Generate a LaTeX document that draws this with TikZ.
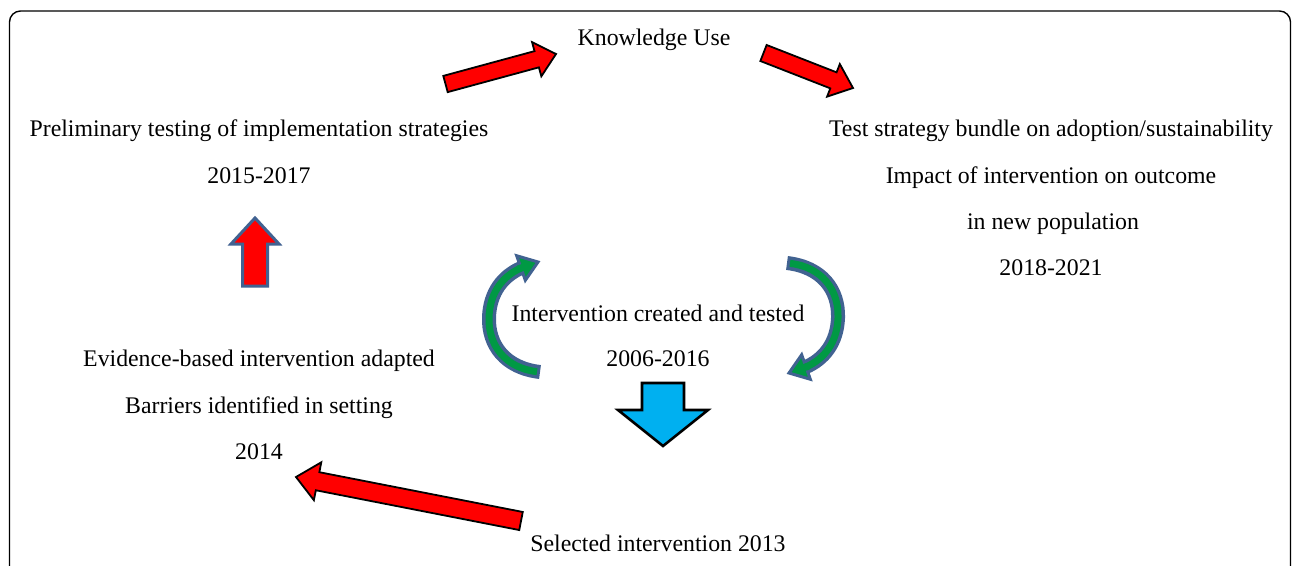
\documentclass[tikz,border=0pt]{standalone}
\usepackage{fontspec}
\setmainfont{Liberation Serif}
\usetikzlibrary{calc}
\definecolor{arrred}{RGB}{255,0,0}
\definecolor{arrgreen}{RGB}{0,153,68}
\definecolor{arrblue}{RGB}{0,176,240}
\definecolor{edgeblue}{RGB}{65,98,145}
\tikzset{
  lbl/.style={anchor=base, inner sep=0pt, font=\fontsize{23.8}{30}\selectfont},
  redarr/.style={fill=arrred, draw=black, line width=1.8pt, line join=miter},
  uparr/.style={fill=arrred, draw=edgeblue, line width=3pt, line join=miter},
  downarr/.style={fill=arrblue, draw=black, line width=2.6pt, line join=miter},
}
% #1 style, #2 tail, #3 tip, #4 shaft half width, #5 head half width, #6 head length
\newcommand\blockarr[6]{%
  \coordinate (ba-base) at ($(#3)!#6!(#2)$);
  \draw[#1] ($(#2)!#4!90:(#3)$) -- ($(ba-base)!#4!90:(#3)$) -- ($(ba-base)!#5!90:(#3)$) -- (#3)
    -- ($(ba-base)!#5!-90:(#3)$) -- ($(ba-base)!#4!-90:(#3)$) -- ($(#2)!#4!-90:(#3)$) -- cycle;
}
% curved arrow: drawn around the picture's centre by scope
\newcommand\curvedarr{%
  \coordinate (ct) at (540,372);
  \coordinate (cb) at (521,268);
  \coordinate (cp) at (538,262);
  \draw[edgeblue, line width=14pt] (ct) .. controls (505,368) and (488,345) .. (489,317)
     .. controls (490,292) and (503,276) .. (cb);
  \draw[fill=arrgreen, draw=edgeblue, line width=3pt, line join=miter]
     ($(cb)!13pt!90:(cp)$) -- (cp) -- ($(cb)!13pt!-90:(cp)$) -- cycle;
  \draw[arrgreen, line width=7pt, shorten <=3pt] (ct) .. controls (505,368) and (488,345) .. (489,317)
     .. controls (490,292) and (503,276) .. (cb);
  \draw[arrgreen, line width=7pt] ($(cb)!-3pt!(cp)$) -- ($(cb)!3pt!(cp)$);
}
\begin{document}
\begin{tikzpicture}[x=1pt,y=-1pt]
\useasboundingbox (0,0) rectangle (1292,565);
\clip (0,0) rectangle (1292,565);
\fill[white] (0,0) rectangle (1292,565);
\draw[line width=1.4pt, rounded corners=11pt] (9.5,11) rectangle (1290.5,620);

% texts
\node[lbl] (ku) at (654,45) {Knowledge Use};
\node[lbl] (pt1) at (259,136) {Preliminary testing of implementation strategies};
\node[lbl] (pt2) at (259,183) {2015-2017};
\node[lbl] (ts1) at (1051,136) {Test strategy bundle on adoption/sustainability};
\node[lbl] (ts2) at (1051,183) {Impact of intervention on outcome};
\node[lbl] (ts3) at (1053,229) {in new population};
\node[lbl] (ts4) at (1051,275) {2018-2021};
\node[lbl] (ic1) at (658,321) {Intervention created and tested};
\node[lbl] (ic2) at (658,366) {2006-2016};
\node[lbl] (eb1) at (259,366) {Evidence-based intervention adapted};
\node[lbl] (eb2) at (259,413) {Barriers identified in setting};
\node[lbl] (eb3) at (259,459) {2014};
\node[lbl] (si) at (658,551) {Selected intervention 2013};

% red arrow to Knowledge Use
\coordinate (a1t) at (445.5,84);
\coordinate (a1h) at (556,54);
\blockarr{redarr}{a1t}{a1h}{8.4pt}{17.7pt}{20pt}
% red arrow from Knowledge Use
\coordinate (a2t) at (763.5,53);
\coordinate (a2h) at (853,88);
\blockarr{redarr}{a2t}{a2h}{8.6pt}{17.5pt}{21pt}
% up arrow
\coordinate (a3t) at (255,286);
\coordinate (a3h) at (255,218);
\blockarr{uparr}{a3t}{a3h}{12.5pt}{24pt}{26pt}
% blue down arrow
\coordinate (a4t) at (663,383);
\coordinate (a4h) at (663,446);
\blockarr{downarr}{a4t}{a4h}{21pt}{45pt}{36pt}
% big red arrow
\coordinate (a5t) at (521,521);
\coordinate (a5h) at (296,477);
\blockarr{redarr}{a5t}{a5h}{9.2pt}{19.3pt}{22pt}

% curved arrows
\curvedarr
\begin{scope}[rotate around={180:(663.5,317.5)}]
\curvedarr
\end{scope}
\end{tikzpicture}
\end{document}
